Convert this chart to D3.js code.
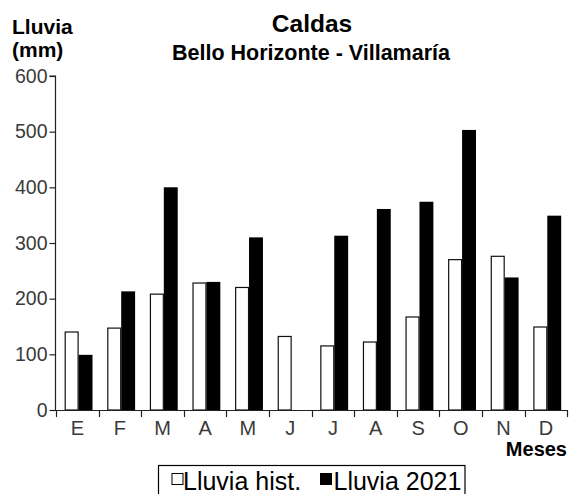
<!DOCTYPE html>
<html>
<head>
<meta charset="utf-8">
<script src="https://cdn.jsdelivr.net/npm/d3@7"></script>
<style>
  html, body { margin: 0; padding: 0; background: #fff; }
  svg { display: block; font-family: "Liberation Sans", Arial, sans-serif; }
</style>
</head>
<body>
<svg id="chart" width="570" height="494"></svg>
<script>
// Monthly rainfall (mm): historical average vs 2021
const months = ["ene", "feb", "mar", "abr", "may", "jun", "jul", "ago", "sep", "oct", "nov", "dic"];
const monthLabels = ["E", "F", "M", "A", "M", "J", "J", "A", "S", "O", "N", "D"];
const lluviaHist = [141, 148, 209, 229, 221, 133, 116, 123, 168, 271, 277, 150];
const lluvia2021 = [100, 214, 401, 231, 311, 0, 314, 362, 375, 504, 239, 350];
const yTicks = [0, 100, 200, 300, 400, 500, 600];
const seriesKeys = ["hist", "2021"];
const seriesNames = ["Lluvia hist.", "Lluvia 2021"];

const svg = d3.select("#chart");
const axisColor = "#222";
const labelColor = "#3a3a3a";

const x = d3.scaleBand().domain(months).range([56, 567.3]).padding(0);
const xSub = d3.scaleBand().domain(seriesKeys).range([8.7, 36.5]).padding(0);
const y = d3.scaleLinear().domain([0, 600]).range([410, 76]);

const rows = months.map((m, i) => ({ month: m, hist: lluviaHist[i], "2021": lluvia2021[i] }));

// Bars
const groups = svg.append("g").selectAll("g").data(rows).join("g")
  .attr("transform", d => `translate(${x(d.month)},0)`);

groups.selectAll("rect")
  .data(d => seriesKeys.map(k => ({ key: k, value: d[k] })).filter(e => e.value > 0))
  .join("rect")
  .attr("x", d => xSub(d.key) + (d.key === "hist" ? 0.5 : 0))
  .attr("y", d => y(d.value) + 0.5)
  .attr("width", d => xSub.bandwidth() - (d.key === "hist" ? 1 : 0))
  .attr("height", d => y(0) - y(d.value) - 0.5)
  .attr("fill", d => d.key === "hist" ? "#fff" : "#000")
  .attr("stroke", d => d.key === "hist" ? "#111" : "none")
  .attr("stroke-width", 1.2);

// Y axis
const yAxis = svg.append("g").attr("transform", "translate(55.5,0)")
  .call(d3.axisLeft(y).tickValues(yTicks).tickSize(6).tickPadding(2));
yAxis.select(".domain").attr("stroke", axisColor).attr("stroke-width", 1.2)
  .attr("d", `M-6,${y(600)}H0V${y(0)}`);
yAxis.selectAll(".tick line").attr("stroke", axisColor).attr("stroke-width", 1.2);
yAxis.selectAll(".tick text")
  .attr("fill", labelColor)
  .style("font-size", "19.5px")
  .style("font-family", "Liberation Sans, Arial, sans-serif");

// X axis: ticks sit on the month boundaries, labels at band centres
const boundaries = months.map(m => x(m)).concat([x.range()[1]]);
const xAxisG = svg.append("g");
xAxisG.append("line")
  .attr("x1", 55).attr("x2", x.range()[1] + 0.5)
  .attr("y1", y(0) + 0.5).attr("y2", y(0) + 0.5)
  .attr("stroke", axisColor).attr("stroke-width", 1.2);
xAxisG.selectAll("line.tk").data(boundaries).join("line").attr("class", "tk")
  .attr("x1", d => Math.round(d) + 0.5).attr("x2", d => Math.round(d) + 0.5)
  .attr("y1", y(0)).attr("y2", y(0) + 7)
  .attr("stroke", axisColor).attr("stroke-width", 1.2);
xAxisG.selectAll("text").data(months).join("text")
  .attr("x", d => x(d) + x.bandwidth() / 2)
  .attr("y", 435)
  .attr("text-anchor", "middle")
  .attr("fill", labelColor)
  .style("font-size", "20px")
  .text((d, i) => monthLabels[i]);

// Titles
svg.append("text").attr("x", 312).attr("y", 32).attr("text-anchor", "middle")
  .style("font-size", "24.5px").style("font-weight", "bold").text("Caldas");
svg.append("text").attr("x", 311).attr("y", 60).attr("text-anchor", "middle")
  .style("font-size", "21.5px").style("font-weight", "bold").text("Bello Horizonte - Villamaría");
svg.append("text").attr("x", 12).attr("y", 34)
  .style("font-size", "21px").style("font-weight", "bold").text("Lluvia");
svg.append("text").attr("x", 12).attr("y", 57)
  .style("font-size", "21px").style("font-weight", "bold").text("(mm)");
svg.append("text").attr("x", 567).attr("y", 456).attr("text-anchor", "end")
  .style("font-size", "20px").style("font-weight", "bold").text("Meses");

// Legend
const legend = svg.append("g");
legend.append("rect").attr("x", 158.5).attr("y", 465.5).attr("width", 306.5).attr("height", 40)
  .attr("fill", "#fff").attr("stroke", "#000").attr("stroke-width", 1.2);
const legendItems = [
  { name: seriesNames[0], fill: "#fff", sx: 172, tx: 183 },
  { name: seriesNames[1], fill: "#000", sx: 320.5, tx: 333.5 }
];
legend.selectAll("rect.sw").data(legendItems).join("rect").attr("class", "sw")
  .attr("x", d => d.sx).attr("y", 473.5).attr("width", 11).attr("height", 11)
  .attr("fill", d => d.fill).attr("stroke", "#000").attr("stroke-width", 1);
legend.selectAll("text").data(legendItems).join("text")
  .attr("x", d => d.tx).attr("y", 490)
  .style("font-size", "25px")
  .text(d => d.name);
</script>
</body>
</html>
